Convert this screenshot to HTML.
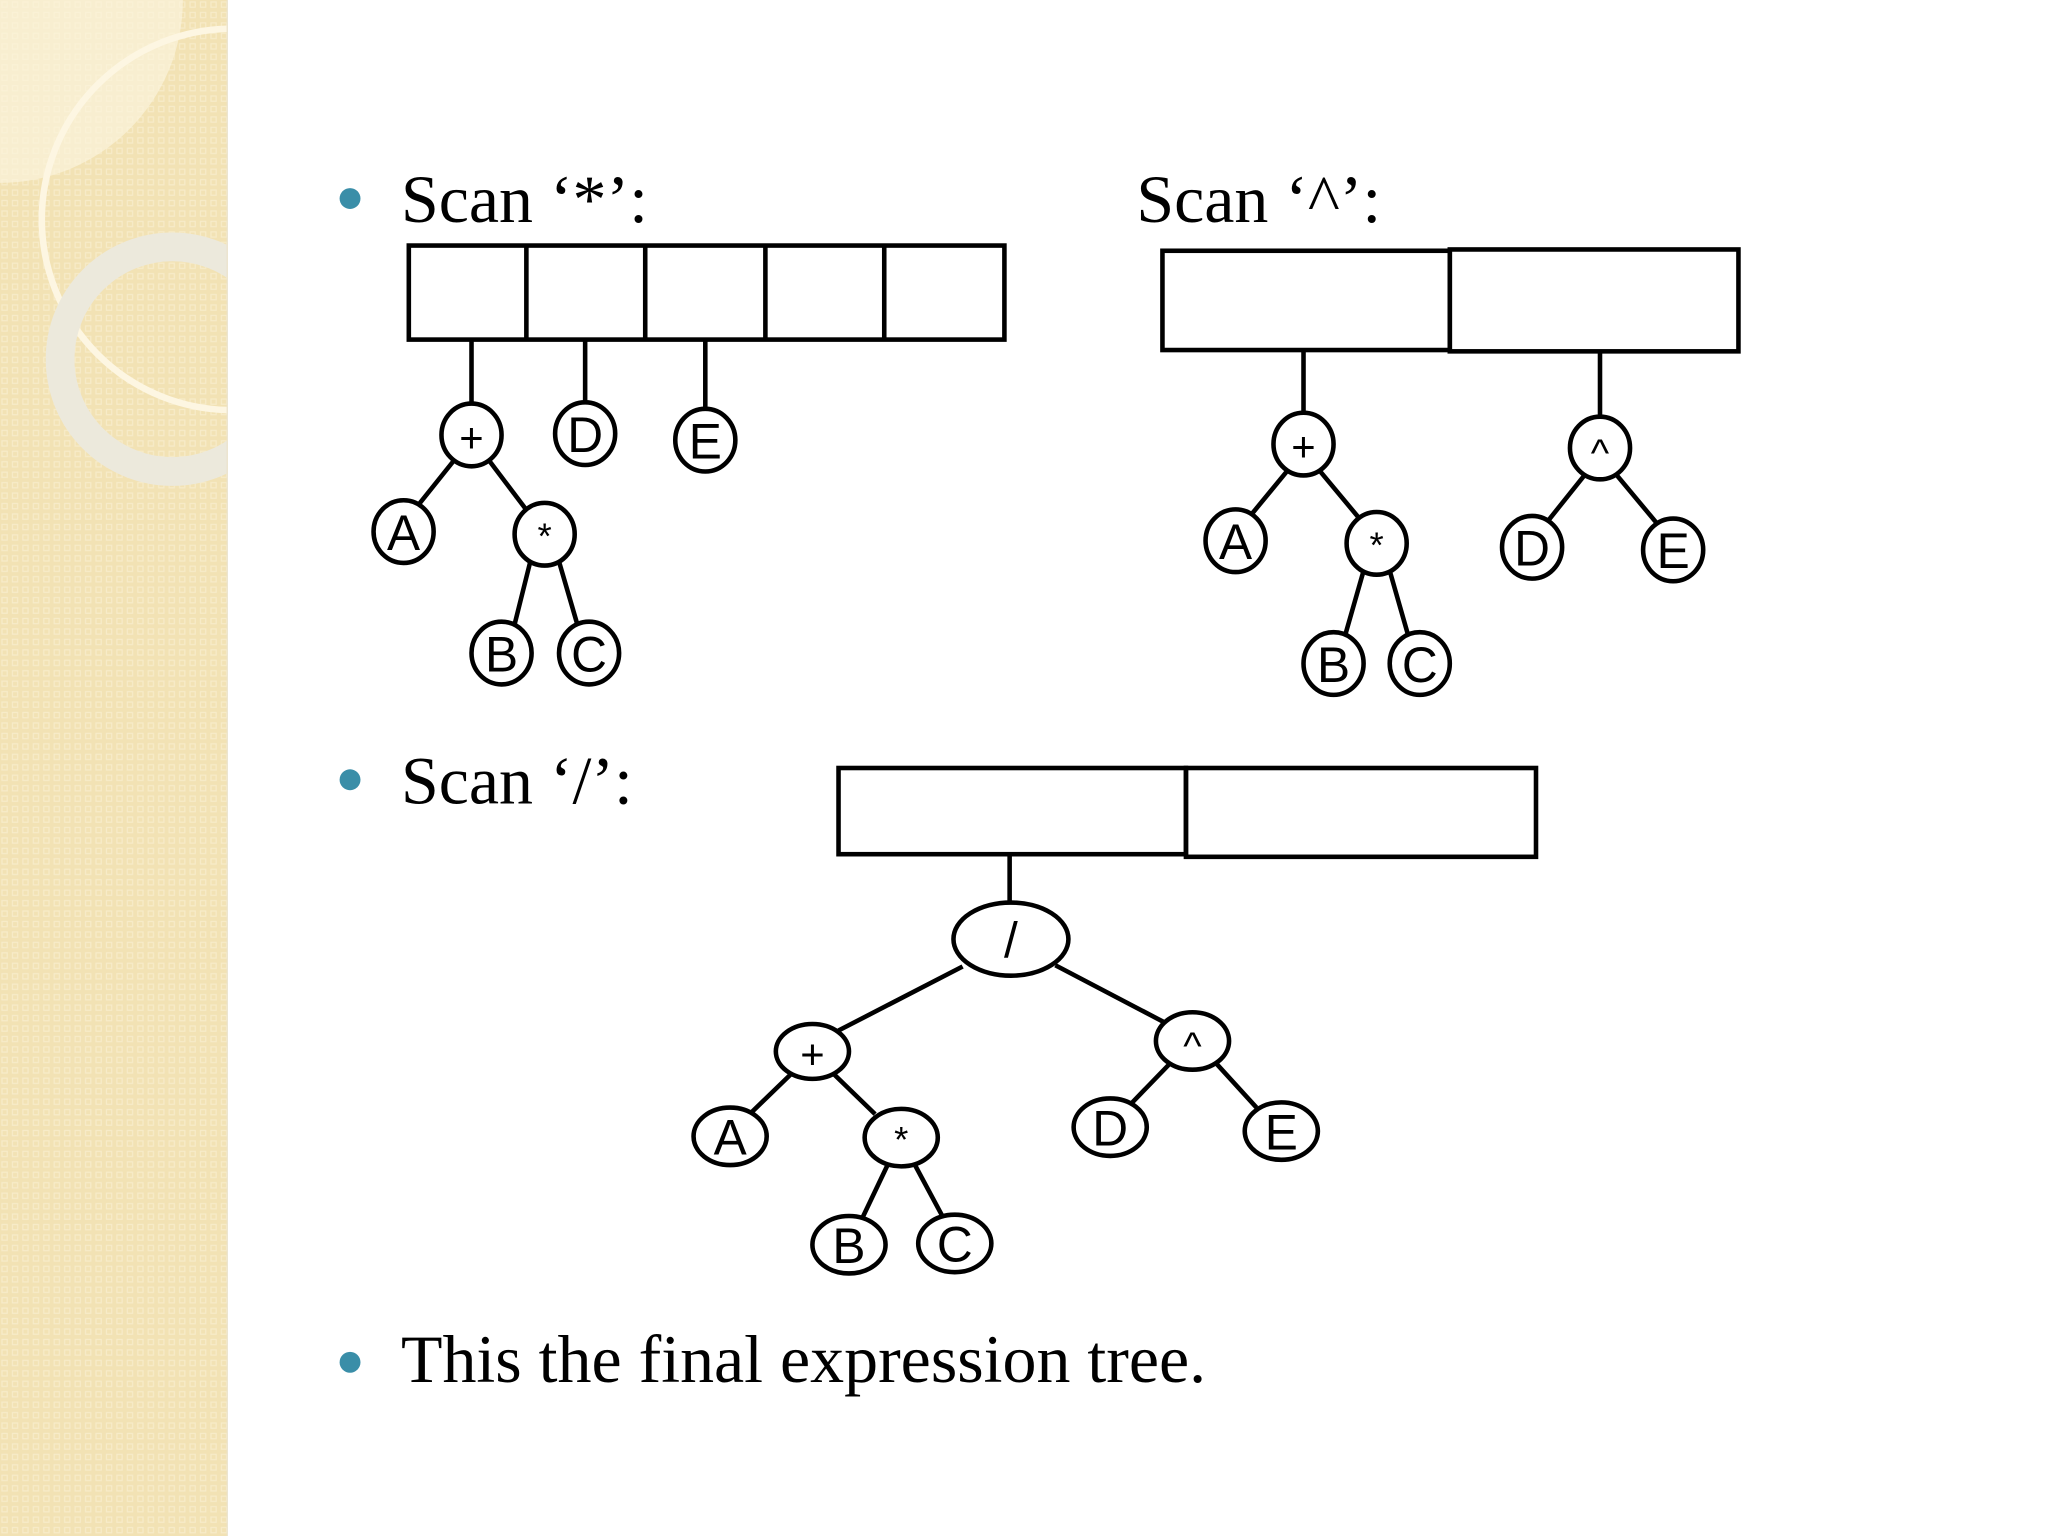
<!DOCTYPE html>
<html><head><meta charset="utf-8"><style>
html,body{margin:0;padding:0;background:#fff}
svg{display:block}
</style></head><body>
<svg width="2048" height="1536" viewBox="0 0 1568 1176" xmlns="http://www.w3.org/2000/svg">
<defs>
<pattern id="p" width="8" height="8" patternUnits="userSpaceOnUse">
<rect width="8" height="8" fill="#f2e2b4"/>
<rect x="1.5" y="1.5" width="4" height="4" fill="none" stroke="#f7ebc8" stroke-width="1"/>
</pattern>
<clipPath id="c"><rect width="174" height="1176"/></clipPath>
</defs>
<rect width="174" height="1176" fill="url(#p)"/>
<g clip-path="url(#c)">
<path d="M0 0 H140 A140 140 0 0 1 0 140 Z" fill="#fbf3dc" opacity="0.7"/>
<circle cx="178" cy="168" r="146" fill="none" stroke="#fdf6e2" stroke-width="5"/>
<circle cx="132" cy="275" r="86" fill="none" stroke="#ece9dc" stroke-width="22"/>
</g>
<line x1="174" y1="0" x2="174" y2="1176" stroke="#ebe3cc" stroke-width="1"/>

<g font-family="Liberation Serif, serif" font-size="52" fill="#000">
<text x="307" y="170">Scan ‘*’:</text>
<text x="870" y="170">Scan ‘^’:</text>
<text x="307" y="615">Scan ‘/’:</text>
<text x="307" y="1058">This the final expression tree.</text>
</g>
<g fill="#3a8ea8">
<circle cx="268" cy="152" r="8"/>
<circle cx="268" cy="597" r="8"/>
<circle cx="268" cy="1043" r="8"/>
</g>

<g fill="none" stroke="#000" stroke-width="3.5">
<rect x="313" y="188" width="456" height="72"/>
<line x1="403" y1="188" x2="403" y2="260"/>
<line x1="494" y1="188" x2="494" y2="260"/>
<line x1="586" y1="188" x2="586" y2="260"/>
<line x1="677" y1="188" x2="677" y2="260"/>
<line x1="361" y1="260" x2="361" y2="310"/>
<line x1="448" y1="260" x2="448" y2="309"/>
<line x1="540" y1="260" x2="540" y2="313"/>
<line x1="348" y1="352" x2="320" y2="387"/>
<line x1="374" y1="352" x2="402" y2="389"/>
<line x1="406" y1="430" x2="394" y2="478"/>
<line x1="428" y1="430" x2="442" y2="478"/>

<rect x="890" y="192" width="220" height="76"/>
<rect x="1110" y="191" width="221" height="78"/>
<line x1="998" y1="268" x2="998" y2="316"/>
<line x1="1225" y1="269" x2="1225" y2="320"/>
<line x1="986" y1="360" x2="958" y2="394"/>
<line x1="1010" y1="360" x2="1040" y2="396"/>
<line x1="1044" y1="437" x2="1030" y2="486"/>
<line x1="1064" y1="437" x2="1078" y2="486"/>
<line x1="1213" y1="364" x2="1185" y2="399"/>
<line x1="1238" y1="364" x2="1268" y2="400"/>

<rect x="642" y="588" width="266" height="66"/>
<rect x="908" y="588" width="268" height="68"/>
<line x1="773" y1="654" x2="773" y2="692"/>
<line x1="737" y1="740" x2="642" y2="789"/>
<line x1="808" y1="739" x2="892" y2="783"/>
<line x1="606" y1="822" x2="575" y2="852"/>
<line x1="638" y1="822" x2="670" y2="853"/>
<line x1="680" y1="891" x2="660" y2="933"/>
<line x1="700" y1="891" x2="722" y2="932"/>
<line x1="896" y1="814" x2="866" y2="845"/>
<line x1="931" y1="814" x2="962" y2="848"/>

<g fill="#fff">
<ellipse cx="361" cy="333" rx="23" ry="24"/>
<ellipse cx="448" cy="332" rx="23" ry="24"/>
<ellipse cx="540" cy="337" rx="23" ry="24"/>
<ellipse cx="309" cy="407" rx="23" ry="24"/>
<ellipse cx="417" cy="409" rx="23" ry="24"/>
<ellipse cx="384" cy="500" rx="23" ry="24"/>
<ellipse cx="451" cy="500" rx="23" ry="24"/>

<ellipse cx="998" cy="340" rx="23" ry="24"/>
<ellipse cx="946" cy="414" rx="23" ry="24"/>
<ellipse cx="1054" cy="416" rx="23" ry="24"/>
<ellipse cx="1021" cy="508" rx="23" ry="24"/>
<ellipse cx="1087" cy="508" rx="23" ry="24"/>
<ellipse cx="1225" cy="343" rx="23" ry="24"/>
<ellipse cx="1173" cy="419" rx="23" ry="24"/>
<ellipse cx="1281" cy="421" rx="23" ry="24"/>

<ellipse cx="774" cy="719" rx="44" ry="28"/>
<ellipse cx="622" cy="805" rx="28" ry="21"/>
<ellipse cx="559" cy="870" rx="28" ry="22"/>
<ellipse cx="690" cy="871" rx="28" ry="22"/>
<ellipse cx="650" cy="953" rx="28" ry="22"/>
<ellipse cx="731" cy="952" rx="28" ry="22"/>
<ellipse cx="913" cy="797" rx="28" ry="22"/>
<ellipse cx="850" cy="863" rx="28" ry="22"/>
<ellipse cx="981" cy="866" rx="28" ry="22"/>
</g>
</g>

<g font-family="Liberation Sans, sans-serif" font-size="38" text-anchor="middle" fill="#000">
<text x="361" y="346" font-size="32">+</text>
<text x="448" y="346">D</text>
<text x="540" y="351">E</text>
<text x="309" y="421">A</text>
<text x="417" y="420" font-size="28">*</text>
<text x="384" y="514">B</text>
<text x="451" y="514">C</text>

<text x="998" y="353" font-size="32">+</text>
<text x="946" y="428">A</text>
<text x="1054" y="427" font-size="28">*</text>
<text x="1021" y="522">B</text>
<text x="1087" y="522">C</text>
<text x="1225" y="357" font-size="30">^</text>
<text x="1173" y="433">D</text>
<text x="1281" y="435">E</text>

<text x="774" y="733">/</text>
<text x="622" y="818" font-size="32">+</text>
<text x="559" y="884">A</text>
<text x="690" y="882" font-size="28">*</text>
<text x="650" y="967">B</text>
<text x="731" y="966">C</text>
<text x="913" y="811" font-size="30">^</text>
<text x="850" y="877">D</text>
<text x="981" y="880">E</text>
</g>
</svg>
</body></html>
